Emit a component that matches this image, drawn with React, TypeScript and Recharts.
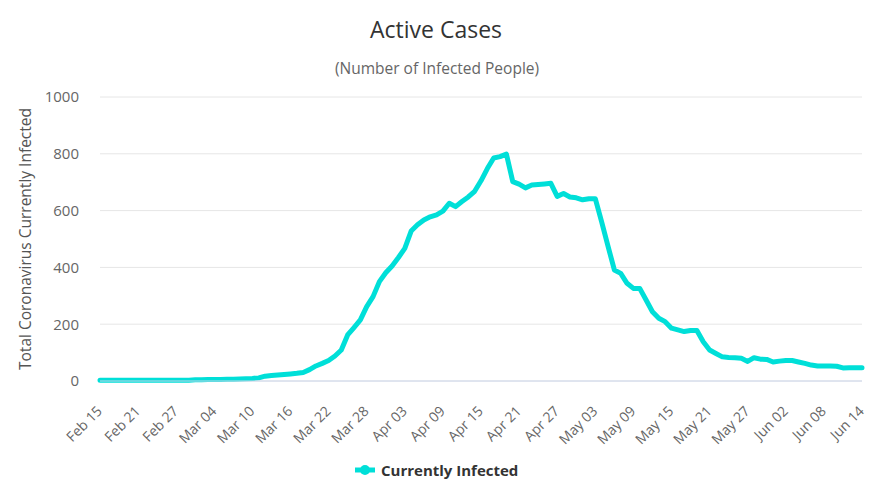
import React from "react";
import { LineChart, Line, XAxis, YAxis, CartesianGrid } from "recharts";

const MONTH_SPANS: [string, number, number][] = [
  ["Feb", 15, 29],
  ["Mar", 1, 31],
  ["Apr", 1, 30],
  ["May", 1, 31],
  ["Jun", 1, 14],
];

const DATES: string[] = [];
MONTH_SPANS.forEach(([m, a, b]) => {
  for (let d = a; d <= b; d++) DATES.push(`${m} ${d < 10 ? "0" + d : d}`);
});

const CURRENTLY_INFECTED: number[] = [
  3, 3, 3, 3, 3, 3, 3, 3, 3, 3, 3, 3, 3, 3, 3,
  4, 4, 5, 5, 5, 6, 6, 7, 8, 9, 11, 17, 19, 21, 23,
  25, 27, 30, 40, 53, 62, 72, 88, 109, 162, 188, 215, 262, 297, 350,
  381, 405, 435, 467, 528, 550, 567, 578, 585, 598, 626, 614, 632, 648, 668,
  705, 748, 785, 790, 799, 702, 693, 680, 690, 692, 694, 696, 650, 660, 648,
  645, 638, 642, 642, 560, 475, 391, 379, 344, 326, 326, 285, 244, 221, 209,
  186, 180, 174, 178, 178, 138, 109, 97, 85, 83, 82, 80, 69, 82, 77,
  76, 67, 70, 72, 72, 67, 62, 56, 53, 53, 53, 52, 46, 47, 47, 47,
];

const Y_TICKS = [0, 200, 400, 600, 800, 1000];

const data = DATES.map((date, i) => ({ date, value: CURRENTLY_INFECTED[i] }));

const FONT = "'Open Sans', sans-serif";
const LINE_COLOR = "#00dfd8";

const XTick = (props: any) => {
  const { x, y, payload } = props;
  const px = x + 3;
  const py = y + 23;
  return (
    <text
      x={px}
      y={py}
      transform={`rotate(-45, ${px}, ${py})`}
      textAnchor="end"
      fontSize={14}
      fill="#666666"
      fontFamily={FONT}
    >
      {payload.value}
    </text>
  );
};

export default function App() {
  return (
    <div style={{ position: "absolute", left: 0, top: 0, width: 890, height: 486, background: "#fff", fontFamily: FONT }}>
      <div
        style={{
          position: "absolute",
          left: 0,
          width: 872,
          top: 13,
          textAlign: "center",
          fontSize: 23,
          color: "#333333",
        }}
      >
        Active Cases
      </div>
      <div
        style={{
          position: "absolute",
          left: 0,
          width: 874,
          top: 57,
          textAlign: "center",
          fontSize: 15.5,
          color: "#666666",
        }}
      >
        (Number of Infected People)
      </div>
      <div
        style={{
          position: "absolute",
          left: 25,
          top: 239,
          transform: "translate(-50%, -50%) rotate(-90deg)",
          whiteSpace: "nowrap",
          fontSize: 15.5,
          color: "#555555",
        }}
      >
        Total Coronavirus Currently Infected
      </div>
      <div style={{ position: "absolute", left: 0, top: 0 }}>
        <LineChart
          width={890}
          height={486}
          data={data}
          margin={{ top: 97, right: 28, bottom: 45, left: 0 }}
        >
          <CartesianGrid vertical={false} stroke="#e6e6e6" />
          <XAxis
            dataKey="date"
            interval={5}
            height={60}
            tick={<XTick />}
            tickLine={false}
            axisLine={{ stroke: "#ccd6eb" }}
          />
          <YAxis
            width={100}
            domain={[0, 1000]}
            ticks={Y_TICKS}
            axisLine={false}
            tickLine={false}
            tickSize={0}
            tickMargin={21}
            tick={{ fontSize: 15, fill: "#666666", fontFamily: FONT }}
          />
          <Line
            type="linear"
            dataKey="value"
            stroke={LINE_COLOR}
            strokeWidth={5}
            strokeLinejoin="round"
            strokeLinecap="round"
            dot={false}
            isAnimationActive={false}
          />
        </LineChart>
      </div>
      <div
        style={{
          position: "absolute",
          left: 354,
          top: 459,
          display: "flex",
          alignItems: "center",
          height: 22,
        }}
      >
        <svg width={22} height={12} style={{ marginRight: 5 }}>
          <line x1={1} y1={6} x2={21} y2={6} stroke={LINE_COLOR} strokeWidth={5} />
          <circle cx={11} cy={6} r={5} fill={LINE_COLOR} />
        </svg>
        <span style={{ fontSize: 15, fontWeight: "bold", color: "#333333" }}>Currently Infected</span>
      </div>
    </div>
  );
}
